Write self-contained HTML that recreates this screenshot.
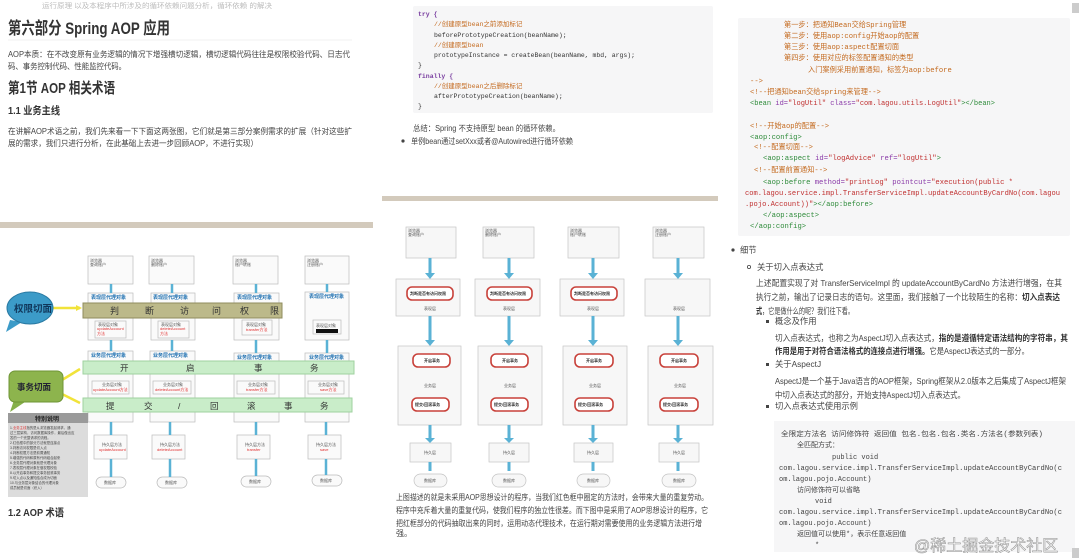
<!DOCTYPE html>
<html><head><meta charset="utf-8"><style>
html,body{margin:0;padding:0;background:#fff;width:1079px;height:559px;overflow:hidden}
svg{display:block}
text{font-family:"Liberation Sans","Noto Sans CJK SC",sans-serif}
.m text,text.m{font-family:"Liberation Mono","Noto Sans CJK SC",monospace}
</style></head><body>
<svg width="1079" height="559" viewBox="0 0 1079 559" xmlns="http://www.w3.org/2000/svg">
<!-- LEFT TOP -->
<text x="42" y="8" font-size="7" fill="#bbb" textLength="230" lengthAdjust="spacingAndGlyphs">运行原理 以及本程序中所涉及的循环依赖问题分析，循环依赖 的解决</text>
<text x="8" y="34" font-size="17" font-weight="bold" fill="#333" textLength="162" lengthAdjust="spacingAndGlyphs">第六部分 Spring AOP 应用</text>
<line x1="8" y1="40" x2="352" y2="40" stroke="#f0f0f0"/>
<text x="8" y="57" font-size="8.2" fill="#444" textLength="342" lengthAdjust="spacingAndGlyphs">AOP本质：在不改变原有业务逻辑的情况下增强横切逻辑，横切逻辑代码往往是权限校验代码、日志代</text>
<text x="8" y="69" font-size="8.2" fill="#444" textLength="118" lengthAdjust="spacingAndGlyphs">码、事务控制代码、性能监控代码。</text>
<text x="8" y="93" font-size="15" font-weight="bold" fill="#333" textLength="107" lengthAdjust="spacingAndGlyphs">第1节 AOP 相关术语</text>
<text x="8" y="114" font-size="10.5" font-weight="bold" fill="#333" textLength="52" lengthAdjust="spacingAndGlyphs">1.1 业务主线</text>
<text x="8" y="134" font-size="8.2" fill="#444" textLength="344" lengthAdjust="spacingAndGlyphs">在讲解AOP术语之前，我们先来看一下下面这两张图，它们就是第三部分案例需求的扩展（针对这些扩</text>
<text x="8" y="146" font-size="8.2" fill="#444" textLength="250" lengthAdjust="spacingAndGlyphs">展的需求，我们只进行分析，在此基础上去进一步回顾AOP，不进行实现）</text>
<rect x="0" y="222" width="373" height="6" fill="#d3cabc"/>

<!-- LEFT DIAGRAM -->
<g font-size="4" fill="#555">
<g fill="#fafafa" stroke="#bbb" stroke-width="0.7">
<rect x="88" y="256" width="45" height="28"/><rect x="149" y="256" width="45" height="28"/><rect x="233" y="256" width="45" height="28"/><rect x="305" y="256" width="44" height="28"/>
<rect x="88" y="293" width="45" height="47"/><rect x="151" y="293" width="44" height="47"/><rect x="234" y="293" width="45" height="47"/><rect x="305" y="292" width="44" height="48"/>
<rect x="88" y="351" width="45" height="71"/><rect x="150" y="351" width="45" height="71"/><rect x="234" y="353" width="45" height="69"/><rect x="305" y="353" width="44" height="69"/>
<rect x="94" y="435" width="33" height="24"/><rect x="152" y="435" width="33" height="24"/><rect x="237" y="435" width="33" height="24"/><rect x="308" y="435" width="33" height="24"/>
<rect x="96" y="477" width="30" height="11" rx="5.5"/><rect x="157" y="477" width="30" height="11" rx="5.5"/><rect x="241" y="476" width="30" height="11" rx="5.5"/><rect x="312" y="475" width="30" height="11" rx="5.5"/>
<rect x="95" y="321" width="31" height="17"/><rect x="158" y="321" width="31" height="17"/><rect x="242" y="320" width="30" height="15"/><rect x="313" y="320" width="28" height="14"/>
<rect x="92" y="381" width="37" height="13"/><rect x="153" y="381" width="38" height="13"/><rect x="237" y="381" width="38" height="13"/><rect x="308" y="381" width="36" height="13"/>
</g>
<text x="90" y="262">浏览器</text><text x="90" y="266">查询账户</text>
<text x="151" y="262">浏览器</text><text x="151" y="266">删除账户</text>
<text x="235" y="262">浏览器</text><text x="235" y="266">账户转账</text>
<text x="307" y="262">浏览器</text><text x="307" y="266">注册账户</text>
<g stroke="#5ab2d5" stroke-width="2.5">
<line x1="111" y1="284" x2="111" y2="293"/><line x1="172" y1="284" x2="172" y2="293"/><line x1="256" y1="284" x2="256" y2="293"/><line x1="327" y1="284" x2="327" y2="292"/>
<line x1="111" y1="340" x2="111" y2="351"/><line x1="172" y1="340" x2="172" y2="351"/><line x1="256" y1="340" x2="256" y2="353"/><line x1="327" y1="340" x2="327" y2="353"/>
<line x1="111" y1="422" x2="111" y2="435"/><line x1="170" y1="422" x2="170" y2="435"/><line x1="256" y1="422" x2="256" y2="435"/><line x1="326" y1="422" x2="326" y2="435"/>
<line x1="111" y1="459" x2="111" y2="477"/><line x1="170" y1="459" x2="170" y2="477"/><line x1="256" y1="459" x2="256" y2="476"/><line x1="326" y1="459" x2="326" y2="475"/>
</g>
<g fill="#1d6fb0" font-size="5" font-weight="bold">
<text x="91" y="299">表现层代理对象</text><text x="153" y="299">表现层代理对象</text><text x="237" y="299">表现层代理对象</text><text x="309" y="298">表现层代理对象</text>
<text x="91" y="357">业务层代理对象</text><text x="153" y="357">业务层代理对象</text><text x="237" y="359">业务层代理对象</text><text x="309" y="359">业务层代理对象</text>
</g>
<rect x="316" y="329" width="22" height="4" fill="#111"/>
<g fill="#e03030">
<text x="97" y="330">updateAccount</text><text x="97" y="335">方法</text>
<text x="160" y="330">deleteAccount</text><text x="160" y="335">方法</text>
<text x="246" y="331">transfer方法</text>
<text x="93" y="391">updateAccount方法</text><text x="155" y="391">deleteAccount方法</text><text x="246" y="391">transfer方法</text><text x="320" y="391">save方法</text>
<text x="99" y="451">updateAccount</text><text x="157" y="451">deleteAccount</text><text x="247" y="451">transfer</text><text x="320" y="451">save</text>
</g>
<text x="98" y="326">表现层对象</text><text x="161" y="326">表现层对象</text><text x="246" y="326">表现层对象</text><text x="316" y="327">表现层对象</text>
<text x="102" y="386">业务层对象</text><text x="163" y="386">业务层对象</text><text x="248" y="386">业务层对象</text><text x="318" y="386">业务层对象</text>
<text x="102" y="446">持久层方法</text><text x="160" y="446">持久层方法</text><text x="245" y="446">持久层方法</text><text x="316" y="446">持久层方法</text>
<text x="104" y="484">数据库</text><text x="165" y="484">数据库</text><text x="249" y="483">数据库</text><text x="320" y="482">数据库</text>
</g>
<rect x="83" y="303" width="199" height="15" fill="#bcb98a" stroke="#8f8c5e"/>
<g font-size="9" fill="#333"><text x="110" y="314">判</text><text x="145" y="314">断</text><text x="180" y="314">访</text><text x="212" y="314">问</text><text x="240" y="314">权</text><text x="270" y="314">限</text></g>
<rect x="83" y="361" width="271" height="13" fill="#c9edc9" stroke="#9fd19f"/>
<g font-size="8.5" fill="#333"><text x="120" y="371">开</text><text x="186" y="371">启</text><text x="254" y="371">事</text><text x="310" y="371">务</text></g>
<rect x="83" y="398" width="269" height="14" fill="#c9edc9" stroke="#9fd19f"/>
<g font-size="8.5" fill="#333"><text x="106" y="409">提</text><text x="144" y="409">交</text><text x="178" y="409">/</text><text x="210" y="409">回</text><text x="247" y="409">滚</text><text x="284" y="409">事</text><text x="320" y="409">务</text></g>
<line x1="52" y1="308" x2="80" y2="308" stroke="#f1e33a" stroke-width="2.5"/>
<path d="M76,305 L82,308 L76,311" fill="#f1e33a"/>
<path d="M10,320 L6,332 L22,322 Z" fill="#3c9bc8"/>
<ellipse cx="30" cy="308" rx="23" ry="16" fill="#3c9bc8" stroke="#2a7aa3"/>
<text x="14" y="312" font-size="9.5" font-weight="bold" fill="#10365a">权限切面</text>
<line x1="62" y1="380" x2="80" y2="369" stroke="#f1e33a" stroke-width="2.5"/>
<line x1="62" y1="394" x2="80" y2="403" stroke="#f1e33a" stroke-width="2.5"/>
<path d="M14,400 L10,412 L28,400 Z" fill="#86b04a"/>
<rect x="9" y="371" width="54" height="31" rx="6" fill="#8db44d" stroke="#6e9535"/>
<text x="17" y="390" font-size="8.5" font-weight="bold" fill="#223">事务切面</text>
<rect x="8" y="413" width="80" height="84" fill="#dcdcdc"/>
<rect x="8" y="413" width="80" height="10" fill="#9a9a9a"/>
<text x="35" y="421" font-size="6" font-weight="bold" fill="#222">特别说明</text>
<g font-size="3.4" fill="#444">
<text x="10" y="429">1.<tspan fill="#d33">业务主线</tspan>指的是从浏览器发起请求，通</text>
<text x="10" y="434">过三层架构，访问数据库操作，最后做出应</text>
<text x="10" y="439">答的一个完整请求的流程。</text>
<text x="10" y="444">2.红色框中的部分方法就是连接点</text>
<text x="10" y="449">3.判断访问权限是切入点</text>
<text x="10" y="454">4.判断权限方法是前置通知</text>
<text x="10" y="459">5.增强的代码和原有代码组合起来</text>
<text x="10" y="464">6.业务层代理对象就是代理对象</text>
<text x="10" y="469">7.表现层代理对象在做权限校验</text>
<text x="10" y="474">8.以开启事务和提交事务回滚事务</text>
<text x="10" y="479">9.切入点以及通知结合成为切面</text>
<text x="10" y="484">10.与业务层对象结合的代理对象</text>
<text x="10" y="489">成员就是切面（织入）</text>
</g>
<text x="8" y="516" font-size="10.5" font-weight="bold" fill="#333" textLength="56" lengthAdjust="spacingAndGlyphs">1.2 AOP 术语</text>

<!-- MIDDLE TOP -->
<rect x="413" y="6" width="300" height="107" rx="2" fill="#f6f6f7"/>
<g class="m" font-size="6.5">
<text x="418" y="16" fill="#7a3fa0" font-weight="bold">try {</text>
<text x="434" y="26" fill="#c46a1f">//创建原型bean之前添加标记</text>
<text x="434" y="37" fill="#333">beforePrototypeCreation(beanName);</text>
<text x="434" y="47" fill="#c46a1f">//创建原型bean</text>
<text x="434" y="57" fill="#333" textLength="201" lengthAdjust="spacingAndGlyphs">prototypeInstance = createBean(beanName, mbd, args);</text>
<text x="418" y="67" fill="#333">}</text>
<text x="418" y="78" fill="#7a3fa0" font-weight="bold">finally {</text>
<text x="434" y="88" fill="#c46a1f">//创建原型bean之后删除标记</text>
<text x="434" y="98" fill="#333">afterPrototypeCreation(beanName);</text>
<text x="418" y="108" fill="#333">}</text>
</g>
<text x="413" y="131" font-size="8" fill="#444" textLength="147" lengthAdjust="spacingAndGlyphs">总结：Spring 不支持原型 bean 的循环依赖。</text>
<circle cx="403" cy="141" r="1.6" fill="#444"/>
<text x="411" y="144" font-size="8" fill="#444" textLength="162" lengthAdjust="spacingAndGlyphs">单例bean通过setXxx或者@Autowired进行循环依赖</text>
<rect x="382" y="196" width="336" height="5" fill="#d3cabc"/>

<!-- MIDDLE DIAGRAM -->
<g font-size="4" fill="#555">
<g fill="#f7f7f7" stroke="#c4c4c4" stroke-width="0.7">
<rect x="406" y="227" width="50" height="31"/><rect x="483" y="227" width="51" height="31"/><rect x="568" y="227" width="51" height="31"/><rect x="653" y="227" width="51" height="31"/>
<rect x="396" y="279" width="64" height="37"/><rect x="475" y="279" width="65" height="37"/><rect x="560" y="279" width="64" height="37"/><rect x="645" y="279" width="65" height="37"/>
<rect x="398" y="346" width="63" height="79"/><rect x="478" y="346" width="64" height="79"/><rect x="563" y="346" width="64" height="79"/><rect x="648" y="346" width="65" height="79"/>
<rect x="410" y="443" width="41" height="19"/><rect x="489" y="443" width="40" height="19"/><rect x="574" y="443" width="39" height="19"/><rect x="659" y="443" width="40" height="19"/>
<rect x="414" y="474" width="33" height="13" rx="6.5"/><rect x="492" y="474" width="34" height="13" rx="6.5"/><rect x="577" y="474" width="33" height="13" rx="6.5"/><rect x="662" y="474" width="34" height="13" rx="6.5"/>
</g>
<text x="408" y="232">浏览器</text><text x="408" y="236">查询账户</text>
<text x="485" y="232">浏览器</text><text x="485" y="236">删除账户</text>
<text x="570" y="232">浏览器</text><text x="570" y="236">账户转账</text>
<text x="655" y="232">浏览器</text><text x="655" y="236">注册账户</text>
<g stroke="#5ab2d5" stroke-width="3">
<line x1="430" y1="258" x2="430" y2="275"/><line x1="509" y1="258" x2="509" y2="275"/><line x1="593" y1="258" x2="593" y2="275"/><line x1="678" y1="258" x2="678" y2="275"/>
<line x1="430" y1="316" x2="430" y2="342"/><line x1="509" y1="316" x2="509" y2="342"/><line x1="593" y1="316" x2="593" y2="342"/><line x1="678" y1="316" x2="678" y2="342"/>
<line x1="430" y1="425" x2="430" y2="440"/><line x1="509" y1="425" x2="509" y2="440"/><line x1="593" y1="425" x2="593" y2="440"/><line x1="678" y1="425" x2="678" y2="440"/>
<line x1="430" y1="462" x2="430" y2="471"/><line x1="509" y1="462" x2="509" y2="471"/><line x1="593" y1="462" x2="593" y2="471"/><line x1="678" y1="462" x2="678" y2="471"/>
</g>
<g fill="#5ab2d5">
<path d="M425,273 L435,273 L430,279Z"/><path d="M504,273 L514,273 L509,279Z"/><path d="M588,273 L598,273 L593,279Z"/><path d="M673,273 L683,273 L678,279Z"/>
<path d="M425,340 L435,340 L430,346Z"/><path d="M504,340 L514,340 L509,346Z"/><path d="M588,340 L598,340 L593,346Z"/><path d="M673,340 L683,340 L678,346Z"/>
<path d="M425,438 L435,438 L430,443Z"/><path d="M504,438 L514,438 L509,443Z"/><path d="M588,438 L598,438 L593,443Z"/><path d="M673,438 L683,438 L678,443Z"/>
</g>
<g fill="#fff" stroke="#c8413a" stroke-width="1.6">
<rect x="407" y="287" width="46" height="13" rx="5"/><rect x="487" y="287" width="45" height="13" rx="5"/><rect x="571" y="287" width="46" height="13" rx="5"/>
<rect x="413" y="354" width="37" height="13" rx="5"/><rect x="491" y="354" width="37" height="13" rx="5"/><rect x="575" y="354" width="38" height="13" rx="5"/><rect x="660" y="354" width="38" height="13" rx="5"/>
<rect x="412" y="398" width="37" height="13" rx="5"/><rect x="491" y="398" width="37" height="13" rx="5"/><rect x="575" y="398" width="38" height="13" rx="5"/><rect x="660" y="398" width="38" height="13" rx="5"/>
</g>
<g font-weight="bold" fill="#333">
<text x="410" y="295">判断是否有访问权限</text><text x="490" y="295">判断是否有访问权限</text><text x="574" y="295">判断是否有访问权限</text>
<text x="424" y="362">开启事务</text><text x="502" y="362">开启事务</text><text x="586" y="362">开启事务</text><text x="671" y="362">开启事务</text>
<text x="415" y="406">提交/回滚事务</text><text x="494" y="406">提交/回滚事务</text><text x="578" y="406">提交/回滚事务</text><text x="663" y="406">提交/回滚事务</text>
</g>
<text x="424" y="310">表现层</text><text x="503" y="310">表现层</text><text x="587" y="310">表现层</text><text x="673" y="310">表现层</text>
<text x="424" y="387">业务层</text><text x="504" y="387">业务层</text><text x="589" y="387">业务层</text><text x="674" y="387">业务层</text>
<text x="424" y="454">持久层</text><text x="503" y="454">持久层</text><text x="587" y="454">持久层</text><text x="673" y="454">持久层</text>
<text x="424" y="482">数据库</text><text x="503" y="482">数据库</text><text x="587" y="482">数据库</text><text x="673" y="482">数据库</text>
</g>
<g font-size="8" fill="#444">
<text x="396" y="500" textLength="312" lengthAdjust="spacingAndGlyphs">上图描述的就是未采用AOP思想设计的程序，当我们红色框中圈定的方法时，会带来大量的重复劳动。</text>
<text x="396" y="513" textLength="312" lengthAdjust="spacingAndGlyphs">程序中充斥着大量的重复代码，使我们程序的独立性很差。而下图中是采用了AOP思想设计的程序，它</text>
<text x="396" y="526" textLength="306" lengthAdjust="spacingAndGlyphs">把红框部分的代码抽取出来的同时，运用动态代理技术，在运行期对需要使用的业务逻辑方法进行增</text>
<text x="396" y="536">强。</text>
</g>

<!-- RIGHT TOP -->
<rect x="738" y="18" width="332" height="218" rx="2" fill="#f6f6f7"/>
<rect x="1072" y="3" width="7" height="10" fill="#ccc"/>
<g class="m" font-size="7.2">
<g fill="#c46a1f">
<text x="784" y="27">第一步：把通知Bean交给Spring管理</text>
<text x="784" y="38">第二步：使用aop:config开始aop的配置</text>
<text x="784" y="49">第三步：使用aop:aspect配置切面</text>
<text x="784" y="60">第四步：使用对应的标签配置通知的类型</text>
<text x="808" y="72">入门案例采用前置通知，标签为aop:before</text>
<text x="750" y="83">--&gt;</text>
<text x="750" y="94">&lt;!--把通知bean交给spring来管理--&gt;</text>
<text x="750" y="128">&lt;!--开始aop的配置--&gt;</text>
<text x="754" y="149">&lt;!--配置切面--&gt;</text>
<text x="754" y="172">&lt;!--配置前置通知--&gt;</text>
</g>
<text x="750" y="105" textLength="245" lengthAdjust="spacingAndGlyphs"><tspan fill="#2e8b3a">&lt;bean </tspan><tspan fill="#8a3aa8">id=</tspan><tspan fill="#c03030">"logUtil"</tspan><tspan fill="#8a3aa8"> class=</tspan><tspan fill="#c03030">"com.lagou.utils.LogUtil"</tspan><tspan fill="#2e8b3a">&gt;&lt;/bean&gt;</tspan></text>
<text x="750" y="139" fill="#2e8b3a">&lt;aop:config&gt;</text>
<text x="763" y="160" textLength="178" lengthAdjust="spacingAndGlyphs"><tspan fill="#2e8b3a">&lt;aop:aspect </tspan><tspan fill="#8a3aa8">id=</tspan><tspan fill="#c03030">"logAdvice"</tspan><tspan fill="#8a3aa8"> ref=</tspan><tspan fill="#c03030">"logUtil"</tspan><tspan fill="#2e8b3a">&gt;</tspan></text>
<text x="763" y="184" textLength="250" lengthAdjust="spacingAndGlyphs"><tspan fill="#2e8b3a">&lt;aop:before </tspan><tspan fill="#8a3aa8">method=</tspan><tspan fill="#c03030">"printLog"</tspan><tspan fill="#8a3aa8"> pointcut=</tspan><tspan fill="#c03030">"execution(public *</tspan></text>
<text x="745" y="195" fill="#c03030" textLength="315" lengthAdjust="spacingAndGlyphs">com.lagou.service.impl.TransferServiceImpl.updateAccountByCardNo(com.lagou</text>
<text x="745" y="206" textLength="128" lengthAdjust="spacingAndGlyphs"><tspan fill="#c03030">.pojo.Account))"</tspan><tspan fill="#2e8b3a">&gt;&lt;/aop:before&gt;</tspan></text>
<text x="763" y="217" fill="#2e8b3a">&lt;/aop:aspect&gt;</text>
<text x="750" y="228" fill="#2e8b3a">&lt;/aop:config&gt;</text>
</g>

<!-- RIGHT BOTTOM -->
<g font-size="8.3" fill="#444">
<circle cx="733" cy="250" r="1.6" fill="#444"/><text x="740" y="253">细节</text>
<circle cx="749" cy="267" r="1.6" fill="none" stroke="#444" stroke-width="0.8"/><text x="757" y="270">关于切入点表达式</text>
<text x="756" y="286" textLength="306" lengthAdjust="spacingAndGlyphs">上述配置实现了对 TransferServiceImpl 的 updateAccountByCardNo 方法进行增强，在其</text>
<text x="756" y="300" textLength="304" lengthAdjust="spacingAndGlyphs">执行之前，输出了记录日志的语句。这里面，我们接触了一个比较陌生的名称：<tspan font-weight="bold" fill="#333">切入点表达</tspan></text>
<text x="756" y="314" textLength="98" lengthAdjust="spacingAndGlyphs"><tspan font-weight="bold" fill="#333">式</tspan>，它是做什么的呢？我们往下看。</text>
<rect x="766" y="320" width="3" height="3" fill="#444"/><text x="775" y="324">概念及作用</text>
<text x="775" y="341" textLength="293" lengthAdjust="spacingAndGlyphs">切入点表达式，也称之为AspectJ切入点表达式，<tspan font-weight="bold" fill="#333">指的是遵循特定语法结构的字符串，其</tspan></text>
<text x="775" y="354" textLength="254" lengthAdjust="spacingAndGlyphs"><tspan font-weight="bold" fill="#333">作用是用于对符合语法格式的连接点进行增强。</tspan>它是AspectJ表达式的一部分。</text>
<rect x="766" y="363" width="3" height="3" fill="#444"/><text x="775" y="367">关于AspectJ</text>
<text x="775" y="384" textLength="291" lengthAdjust="spacingAndGlyphs">AspectJ是一个基于Java语言的AOP框架，Spring框架从2.0版本之后集成了AspectJ框架</text>
<text x="775" y="398" textLength="190" lengthAdjust="spacingAndGlyphs">中切入点表达式的部分，开始支持AspectJ切入点表达式。</text>
<rect x="766" y="405" width="3" height="3" fill="#444"/><text x="775" y="409">切入点表达式使用示例</text>
</g>
<rect x="774" y="421" width="301" height="131" fill="#f6f6f7"/>
<g class="m" font-size="7" fill="#444">
<text x="781" y="436" textLength="262" lengthAdjust="spacingAndGlyphs">全限定方法名    访问修饰符  返回值  包名.包名.包名.类名.方法名(参数列表)</text>
<text x="797" y="447">全匹配方式：</text>
<text x="832" y="459">public void</text>
<text x="779" y="470" textLength="283" lengthAdjust="spacingAndGlyphs">com.lagou.service.impl.TransferServiceImpl.updateAccountByCardNo(c</text>
<text x="779" y="481">om.lagou.pojo.Account)</text>
<text x="797" y="492">访问修饰符可以省略</text>
<text x="815" y="503">void</text>
<text x="779" y="514" textLength="283" lengthAdjust="spacingAndGlyphs">com.lagou.service.impl.TransferServiceImpl.updateAccountByCardNo(c</text>
<text x="779" y="525">om.lagou.pojo.Account)</text>
<text x="797" y="536">返回值可以使用*，表示任意返回值</text>
<text x="815" y="547">*</text>
</g>
<text x="914" y="551" font-size="16" fill="#fff" stroke="#9a9a9a" stroke-width="0.6">@稀土掘金技术社区</text>
<rect x="1072" y="548" width="7" height="10" fill="#ccc"/>
</svg>
</body></html>
